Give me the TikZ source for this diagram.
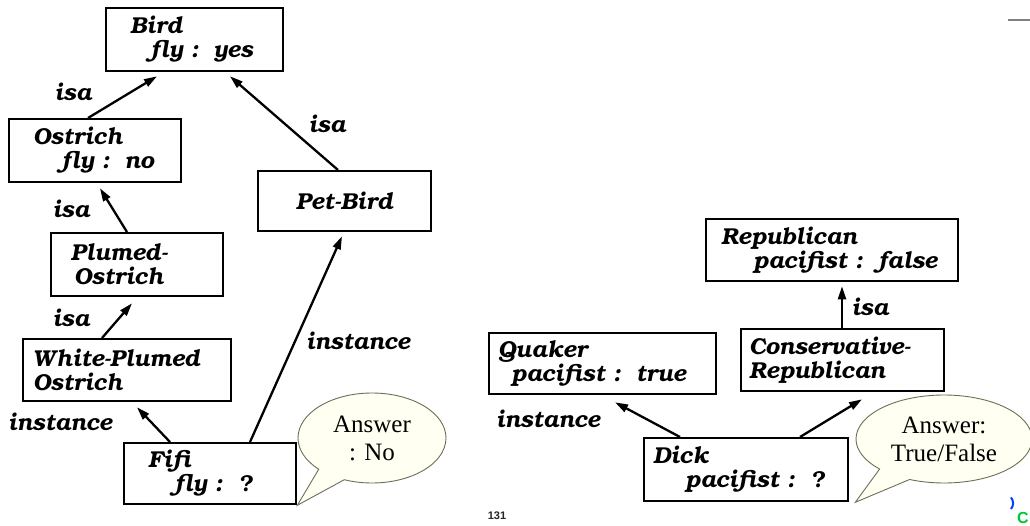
\documentclass[tikz,border=0pt]{standalone}
\usepackage[T1,TU]{fontenc}
\usepackage{fontspec}
\setmainfont{Liberation Serif}
\newfontfamily\pagesans{Liberation Sans}
\usetikzlibrary{shapes.callouts, arrows.meta}

% Bookman italic for the frame texts and link labels
\newcommand\framefont{\fontencoding{T1}\fontfamily{pbk}\fontseries{db}\fontshape{it}\fontsize{23}{24}\selectfont}

\definecolor{bubblefill}{HTML}{FFFFF2}
\definecolor{bubbleline}{HTML}{6E6E58}

\tikzset{
  frame/.style n args={3}{draw, line width=2.3pt, anchor=north west,
    inner xsep=#1, inner ysep=2pt, text width=#2, minimum height=#3,
    align=left, font=\framefont},
  link/.style={-{Triangle[length=13pt,width=8pt]}, line width=2.3pt},
  linklabel/.style={font=\framefont, inner sep=0pt},
  bubble/.style={ellipse callout, draw=bubbleline, fill=bubblefill,
    line width=0.9pt, inner sep=0pt, align=center,
    font=\fontsize{25}{28}\selectfont, callout pointer arc=24},
}

\begin{document}
\begin{tikzpicture}[x=1pt, y=-1pt]
  \fill[white] (0,0) rectangle (1030,525);
  \useasboundingbox (0,0) rectangle (1030,525);

  % ---- bird hierarchy ----
  \node[frame={24pt}{129pt}{63pt}] (bird) at (105,7)
    {Bird\\\hspace*{20pt}fly\ :\ \ yes};
  \node[frame={24pt}{124pt}{63pt}] (ostrich) at (8,118)
    {Ostrich\\\hspace*{28pt}fly\ :\ \ no};
  \node[frame={10pt}{153pt}{60pt}, align=center] (petbird) at (257,170)
    {Pet-Bird};
  \node[frame={20pt}{132pt}{63pt}] (plumed) at (50,232)
    {Plumed-\\\hspace*{3pt}Ostrich};
  \node[frame={10pt}{188pt}{62pt}] (wpo) at (22,338)
    {White-Plumed\\Ostrich};
  \node[frame={24pt}{124pt}{61pt}] (fifi) at (123,442)
    {Fifi\\\hspace*{26pt}fly\ :\ \ ?};

  \draw[link] ([xshift=80pt]ostrich.north west) -- ([xshift=52pt,yshift=-4pt]bird.south west);
  \draw[link] ([xshift=81pt]petbird.north west) -- ([xshift=125pt,yshift=-4pt]bird.south west);
  \draw[link] ([xshift=77pt]plumed.north west) -- ([xshift=92pt,yshift=-5pt]ostrich.south west);
  \draw[link] ([xshift=80pt]wpo.north west) -- ([xshift=82pt,yshift=-6pt]plumed.south west);
  \draw[link] ([xshift=47pt]fifi.north west) -- ([xshift=115pt,yshift=-5pt]wpo.south west);
  \draw[link] ([xshift=127pt]fifi.north west) -- ([xshift=85pt,yshift=-4pt]petbird.south west);

  \node[linklabel] (isa1) at (73,92) {isa};
  \node[linklabel] (isa2) at (327,124) {isa};
  \node[linklabel] (isa3) at (71,209) {isa};
  \node[linklabel] (isa4) at (71,318) {isa};
  \node[linklabel] (inst1) at (60,422) {instance};
  \node[linklabel] (inst2) at (358,341) {instance};

  \node[bubble, minimum width=148pt, minimum height=90pt,
        callout absolute pointer={(fifi.south east)}] (ans1) at (372,438)
    {Answer\\: No};

  % ---- political example ----
  \node[frame={15pt}{222pt}{62pt}] (rep) at (705,218)
    {Republican\\\hspace*{32pt}pacifist\ :\ \ false};
  \node[frame={8pt}{187pt}{62pt}] (cons) at (740,328)
    {Conservative-\\Republican};
  \node[frame={9pt}{209pt}{61pt}] (quaker) at (488,332)
    {Quaker\\\hspace*{13pt}pacifist\ :\ \ true};
  \node[frame={9pt}{186pt}{63pt}] (dick) at (643,437)
    {Dick\\\hspace*{32pt}pacifist\ :\ \ ?};

  \draw[link] ([xshift=102pt]cons.north west) -- ([xshift=137pt,yshift=-4pt]rep.south west);
  \draw[link] ([xshift=37pt]dick.north west) -- ([xshift=127pt,yshift=-7pt]quaker.south west);
  \draw[link] ([xshift=157pt]dick.north west) -- ([xshift=122pt,yshift=-7pt]cons.south west);

  \node[linklabel] (isa5) at (870,307) {isa};
  \node[linklabel] (inst3) at (548,419) {instance};

  \node[bubble, minimum width=176pt, minimum height=88pt,
        callout absolute pointer={([xshift=6pt]dick.south east)}] (ans2) at (944,439)
    {Answer:\\True/False};

  % ---- page furniture ----
  \node[font=\pagesans\bfseries\fontsize{11}{13}\selectfont, text=black!85] (pagenum) at (497,516) {131};
  \draw[gray, line width=2pt] (1008,20) -- (1030,20);
  \draw[blue!75!cyan, line width=2pt] (1011,509) arc[start angle=40, end angle=-40, radius=9];
  \node[font=\pagesans\bfseries\fontsize{16}{18}\selectfont, text=green!55!teal, anchor=west, inner sep=0pt] (logo) at (1017,518) {C};
\end{tikzpicture}
\end{document}
